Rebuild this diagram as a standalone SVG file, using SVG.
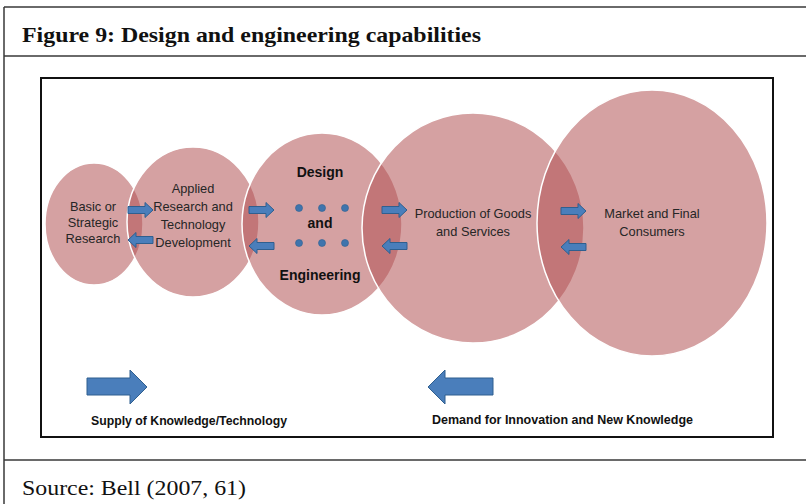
<svg xmlns="http://www.w3.org/2000/svg" width="806" height="504" viewBox="0 0 806 504">
<style>
.frame{stroke:#3a3a3a;stroke-width:1.5;fill:none}
.c{fill:#b35456;fill-opacity:0.55;stroke:#ffffff;stroke-width:1.5}
.t{font-family:"Liberation Sans",Arial,sans-serif;font-size:12.8px;fill:#262626;text-anchor:middle}
.b{font-family:"Liberation Sans",Arial,sans-serif;font-weight:bold;fill:#111;}
.ar{fill:#4a7ebb;stroke:#2f5f8f;stroke-width:1}
.dot{fill:#3f74ad;stroke:#2f5f8f;stroke-width:0.6}
.serif{font-family:"Liberation Serif","Times New Roman",serif;fill:#111}
</style>
<defs>
<path id="ra" d="M0,-3.5 H17 V-7.5 L25,0 L17,7.5 V3.5 H0 Z"/>
<path id="la" d="M25,-3.5 H8 V-7.5 L0,0 L8,7.5 V3.5 H25 Z"/>
</defs>
<rect width="806" height="504" fill="#fff"/>
<path class="frame" d="M4,7 H806 M4,7 V504 M4,56 H806 M4,460 H806"/>
<text class="serif" x="22" y="42" font-weight="bold" font-size="22" textLength="459" lengthAdjust="spacingAndGlyphs">Figure 9: Design and engineering capabilities</text>
<text class="serif" x="22" y="495" font-size="21" textLength="224" lengthAdjust="spacingAndGlyphs">Source: Bell (2007, 61)</text>
<rect x="41" y="78" width="732" height="359" fill="#fff" stroke="#111" stroke-width="2"/>
<g id="basic">
<ellipse class="c" cx="94" cy="224" rx="49" ry="61"/>
<text class="t" x="93" y="211">Basic or</text>
<text class="t" x="93" y="227">Strategic</text>
<text class="t" x="93" y="243">Research</text>
</g>
<g id="applied">
<ellipse class="c" cx="193" cy="222" rx="66" ry="75"/>
<text class="t" x="193" y="193">Applied</text>
<text class="t" x="193" y="211">Research and</text>
<text class="t" x="193" y="229">Technology</text>
<text class="t" x="193" y="247">Development</text>
</g>
<g id="design">
<ellipse class="c" cx="322" cy="224" rx="80" ry="91"/>
<text class="b" x="320" y="177" font-size="14" text-anchor="middle">Design</text>
<text class="b" x="320" y="228" font-size="14" text-anchor="middle">and</text>
<text class="b" x="320" y="280" font-size="14" text-anchor="middle">Engineering</text>
<circle class="dot" cx="299" cy="208" r="3.5"/>
<circle class="dot" cx="322" cy="208" r="3.5"/>
<circle class="dot" cx="345" cy="208" r="3.5"/>
<circle class="dot" cx="299" cy="243" r="3.5"/>
<circle class="dot" cx="322" cy="243" r="3.5"/>
<circle class="dot" cx="345" cy="243" r="3.5"/>
</g>
<g id="production">
<ellipse class="c" cx="473" cy="228" rx="111" ry="115"/>
<text class="t" x="473" y="218">Production of Goods</text>
<text class="t" x="473" y="236">and Services</text>
</g>
<g id="market">
<ellipse class="c" cx="652" cy="223" rx="115" ry="133"/>
<text class="t" x="652" y="218">Market and Final</text>
<text class="t" x="652" y="236">Consumers</text>
</g>
<g id="connectors">
<use href="#ra" class="ar" x="128" y="210"/>
<use href="#la" class="ar" x="128" y="240"/>
<use href="#ra" class="ar" x="249" y="210"/>
<use href="#la" class="ar" x="249" y="246"/>
<use href="#ra" class="ar" x="382" y="210"/>
<use href="#la" class="ar" x="382" y="246"/>
<use href="#ra" class="ar" x="561" y="211"/>
<use href="#la" class="ar" x="561" y="247"/>
<path class="ar" d="M87,378 H130 V370 L147,387 L130,404 V395 H87 Z"/>
<path class="ar" d="M493,378 H445 V370 L428,387 L445,404 V395 H493 Z"/>
</g>
<text class="b" x="91" y="425" font-size="12" textLength="196" lengthAdjust="spacingAndGlyphs">Supply of Knowledge/Technology</text>
<text class="b" x="432" y="424" font-size="12" textLength="261" lengthAdjust="spacingAndGlyphs">Demand for Innovation and New Knowledge</text>
</svg>
